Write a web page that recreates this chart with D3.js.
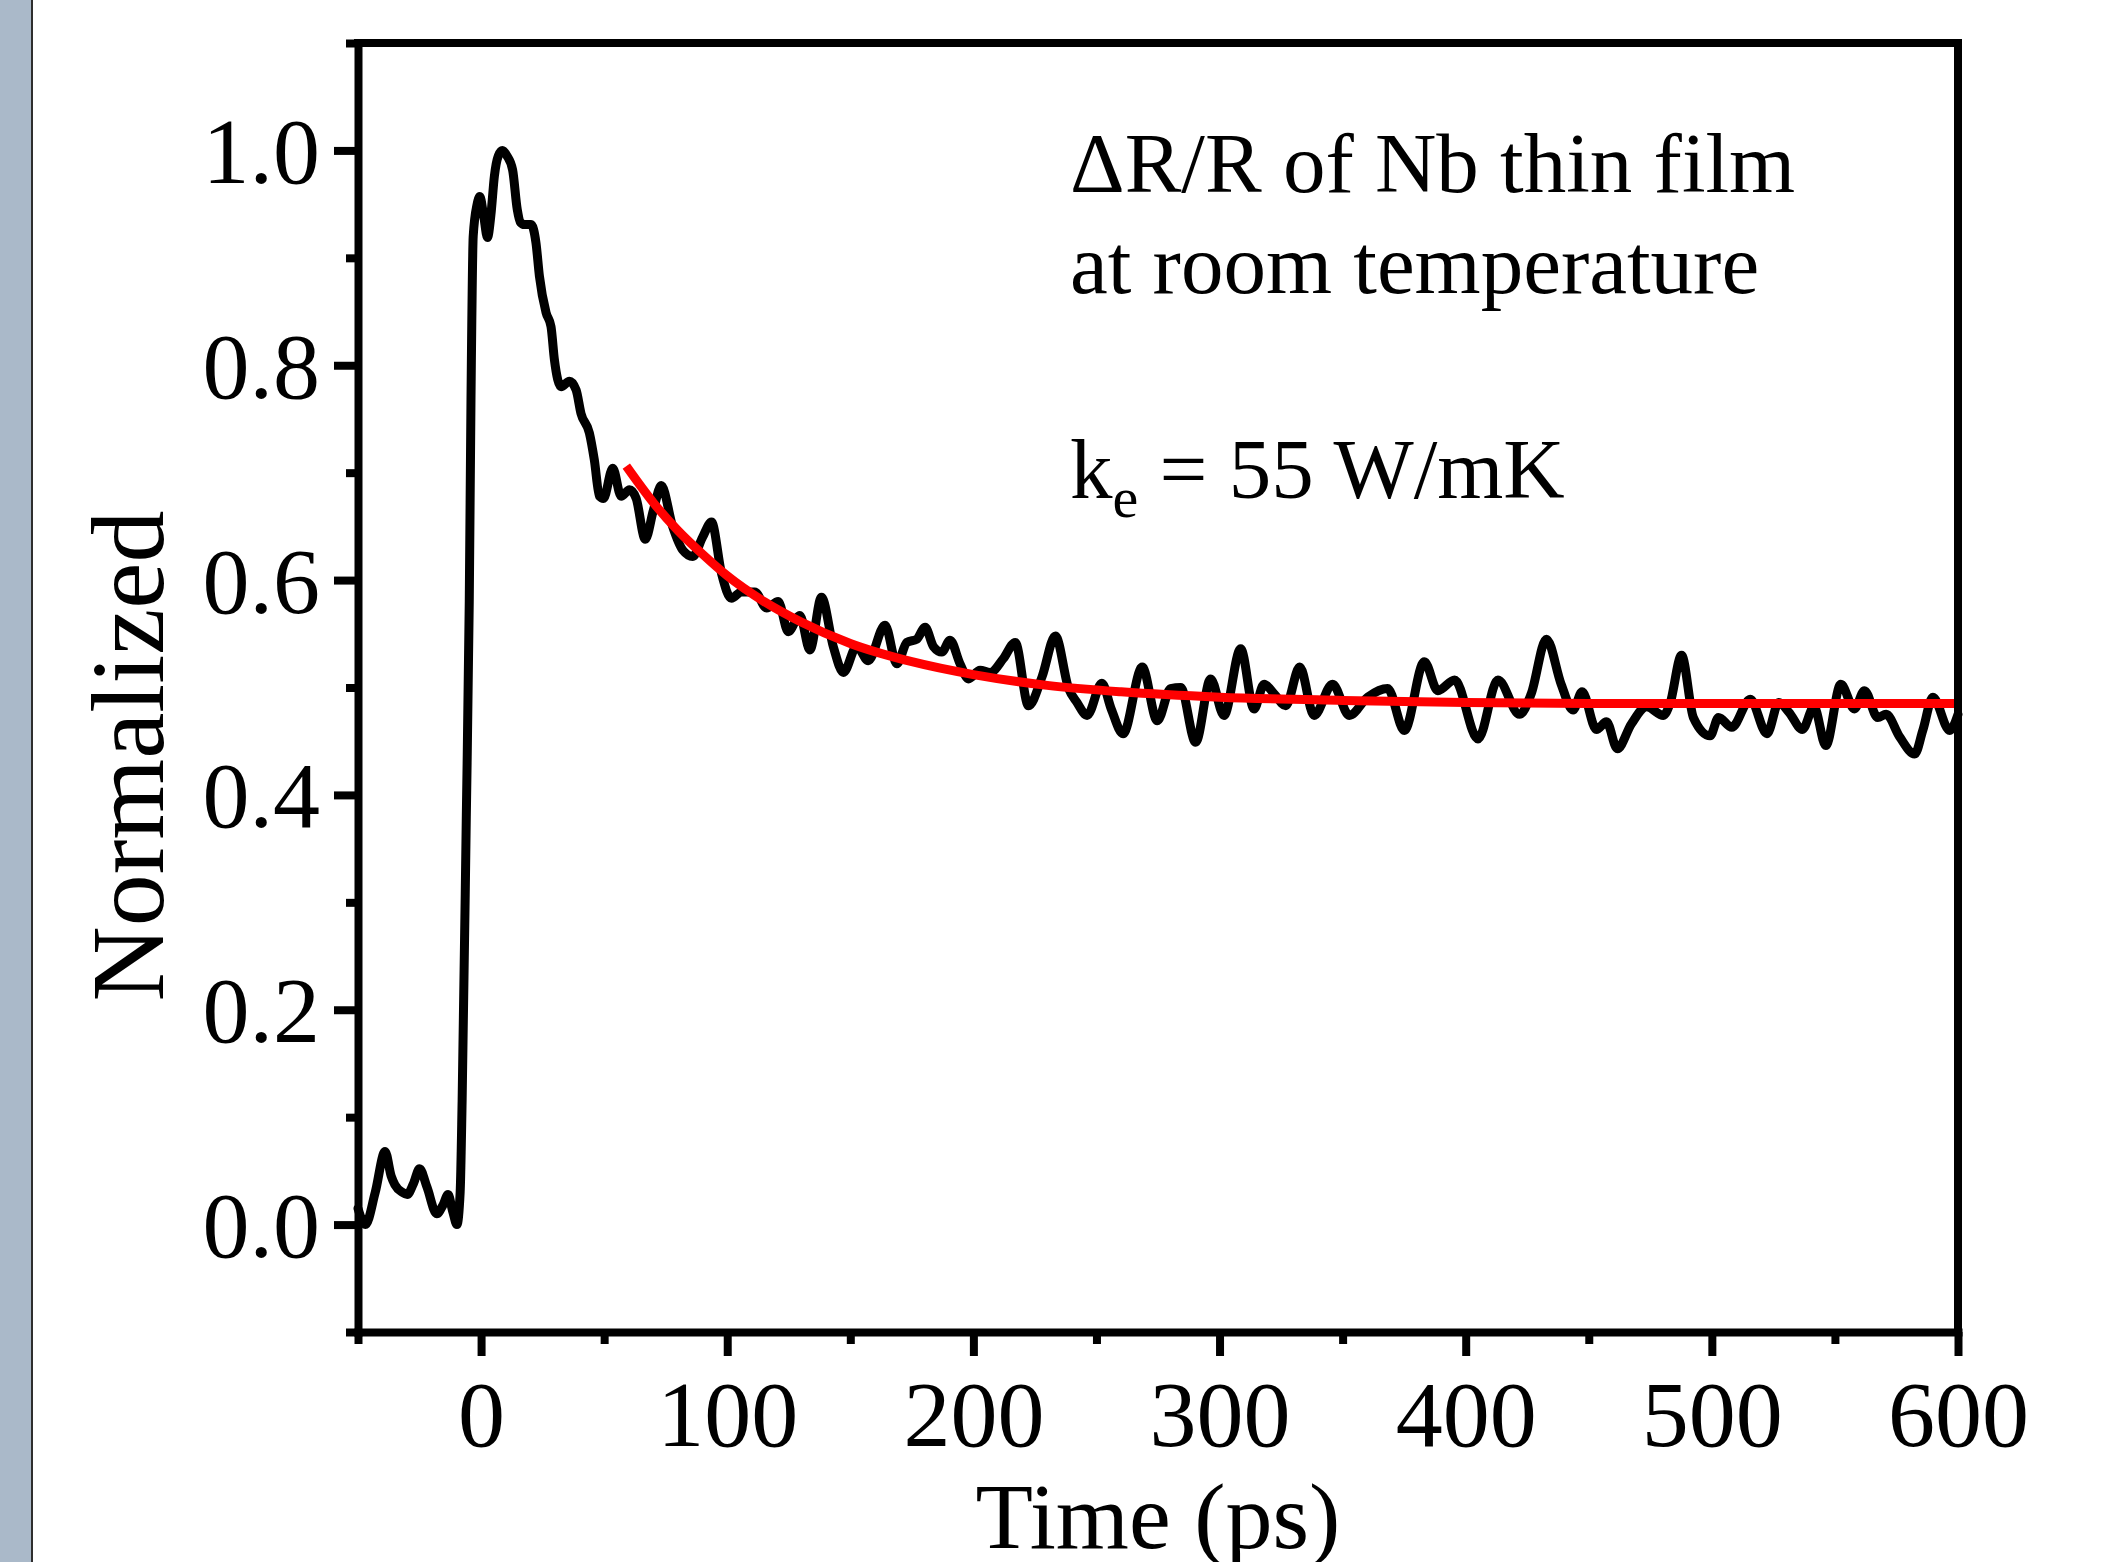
<!DOCTYPE html>
<html>
<head>
<meta charset="utf-8">
<script src="https://d3js.org/d3.v7.min.js"></script>
<style>
body { margin: 0; background: #fff; }
text { font-family: "Liberation Serif", "Times New Roman", serif; fill: #000; }
</style>
</head>
<body>
<div id="chart"></div>
<script>
// measured trace, time in ps
var time = [-50, -47, -43, -39, -36.5, -35, -32, -30, -27.5, -25, -22, -18, -15.5, -13.4, -11.5, -9.8, -8.5, -7.7, -6, -4.8, -4.1, -3.2, -1.6, -0.5,
  1, 2.6, 4, 5.4, 7, 8.7, 10.5, 12.8, 14.7, 16, 17.6, 20.3, 22.3, 23.7, 26.4, 28.4, 29.8, 32.5, 35.9, 38.6, 40.6, 44, 46, 48.1, 49.7,
  53.5, 56.9, 60.3, 63, 66.7, 70, 73.2, 77.8, 81.9, 86, 90, 93.6, 97.7, 101.7, 105.8, 111.2, 116, 120.7, 124.8, 129.5, 133.6, 138.3,
  143.1, 147.2, 152.6, 157.3, 164.1, 168.9, 173, 177, 180.4, 183.8, 187.2, 190.5, 194.6, 198, 202.7, 206.8, 212.2, 217, 222.4, 227.9,
  233.3, 238.7, 242.1, 246.2, 252.2, 256, 260.8, 268.6, 274.7, 280.1, 284.2, 290.3, 296.4, 301.8, 308.6, 314, 318.1, 322.2, 326.9,
  332.6, 338.4, 345.9, 352.7, 360.2, 368.3, 375.1, 383.2, 388.7, 395.5, 405, 413.1, 421.9, 426.6, 432.8, 438.8, 443.6, 447.3, 453.1,
  457.2, 461.6, 467.3, 473.5, 480.3, 483, 487.7, 492.5, 499.3, 502.7, 508.1, 515.6, 522.4, 527.2, 531.3, 536.8, 541.5, 546.3, 552.4,
  557.9, 562, 567.4, 570.8, 576.3, 582.4, 585.7, 589.8, 596.6, 600];
var signal = [0.015, 0.0, 0.03, 0.068, 0.045, 0.037, 0.03, 0.028, 0.038, 0.052, 0.035, 0.01, 0.018, 0.028, 0.012, 0.0, 0.03, 0.115, 0.38, 0.58, 0.768, 0.92, 0.95, 0.957,
  0.94, 0.919, 0.94, 0.976, 0.995, 1.0, 0.995, 0.982, 0.945, 0.933, 0.931, 0.931, 0.914, 0.883, 0.849, 0.836, 0.805, 0.78, 0.785, 0.777, 0.755, 0.737, 0.712, 0.678, 0.676,
  0.704, 0.678, 0.684, 0.676, 0.638, 0.665, 0.688, 0.65, 0.628, 0.622, 0.64, 0.654, 0.606, 0.583, 0.589, 0.589, 0.574, 0.58, 0.552, 0.567, 0.535, 0.584,
  0.538, 0.514, 0.538, 0.525, 0.558, 0.522, 0.542, 0.545, 0.556, 0.538, 0.533, 0.544, 0.522, 0.508, 0.516, 0.514, 0.527, 0.542, 0.483, 0.51,
  0.548, 0.499, 0.486, 0.474, 0.504, 0.48, 0.457, 0.519, 0.469, 0.499, 0.5, 0.449, 0.508, 0.474, 0.536, 0.48, 0.503, 0.494, 0.483,
  0.519, 0.474, 0.503, 0.474, 0.491, 0.499, 0.46, 0.524, 0.497, 0.507, 0.452, 0.507, 0.475, 0.494, 0.545, 0.503, 0.479, 0.496, 0.461,
  0.468, 0.443, 0.466, 0.482, 0.474, 0.485, 0.53, 0.472, 0.455, 0.472, 0.463, 0.489, 0.457, 0.486, 0.477, 0.461, 0.482, 0.446, 0.503,
  0.48, 0.497, 0.472, 0.475, 0.454, 0.438, 0.46, 0.491, 0.46, 0.475];

// red fit curve
var fitTime = [59, 70, 80, 90, 100, 115, 130, 150, 175, 200, 230, 260, 300, 350, 400, 450, 500, 550, 600];
var fitValue = [0.706, 0.672, 0.646, 0.624, 0.604, 0.58, 0.561, 0.541, 0.524, 0.512, 0.502, 0.496, 0.491, 0.488, 0.486, 0.485, 0.485, 0.485, 0.485];

var xTicks = [0, 100, 200, 300, 400, 500, 600];
var xMinor = [-50, 50, 150, 250, 350, 450, 550];
var yTicks = [0, 0.2, 0.4, 0.6, 0.8, 1.0];
var yMinor = [-0.1, 0.1, 0.3, 0.5, 0.7, 0.9, 1.1];
var noteLines = ["\u0394R/R of Nb thin film", "at room temperature"];

var margin = {top: 43, right: 152, bottom: 230, left: 358},
    width = 2110 - margin.left - margin.right,
    height = 1562 - margin.top - margin.bottom;

var root = d3.select("#chart")
  .append("svg")
    .attr("width", 2110)
    .attr("height", 1562);

// grey strip on the left edge
root.append("rect")
  .attr("x", 0).attr("y", 0)
  .attr("width", 31).attr("height", 1562)
  .attr("fill", "#aab9c9");
root.append("line")
  .attr("x1", 32).attr("x2", 32)
  .attr("y1", 0).attr("y2", 1562)
  .attr("stroke", "#2e2e2e")
  .attr("stroke-width", 2);

var svg = root.append("g")
  .attr("transform", "translate(" + margin.left + "," + margin.top + ")");

var x = d3.scaleLinear()
  .domain([-50, 600])
  .range([0, width]);

var y = d3.scaleLinear()
  .domain([-0.1, 1.1])
  .range([height, 0]);

// curves
var trace = time.map(function(t, i) { return [t, signal[i]]; });
var fit = fitTime.map(function(t, i) { return [t, fitValue[i]]; });

var line = d3.line()
  .x(function(d) { return x(d[0]); })
  .y(function(d) { return y(d[1]); })
  .curve(d3.curveMonotoneX);

svg.append("path")
  .datum(trace)
  .attr("d", line)
  .attr("fill", "none")
  .attr("stroke", "#000")
  .attr("stroke-width", 9)
  .attr("stroke-linejoin", "round")
  .attr("stroke-linecap", "round");

svg.append("path")
  .datum(fit)
  .attr("d", line)
  .attr("fill", "none")
  .attr("stroke", "#ff0000")
  .attr("stroke-width", 9)
  .attr("stroke-linejoin", "round");

// X axis
var xAxis = svg.append("g")
  .attr("transform", "translate(0," + height + ")")
  .call(d3.axisBottom(x).tickValues(xTicks).tickSize(24).tickSizeOuter(0).tickFormat(d3.format("d")));
xAxis.select(".domain").attr("stroke-width", 8).attr("stroke-linecap", "square");
xAxis.selectAll(".tick line").attr("stroke-width", 8);
xAxis.selectAll("text")
  .attr("y", 114)
  .attr("dy", null)
  .style("font-size", "94px")
  .style("font-family", "'Liberation Serif', 'Times New Roman', serif");

svg.append("g")
  .attr("transform", "translate(0," + height + ")")
  .call(d3.axisBottom(x).tickValues(xMinor).tickSize(12).tickFormat(""))
  .call(function(g) { g.select(".domain").remove(); })
  .selectAll(".tick line").attr("stroke-width", 8);

// Y axis
var yAxis = svg.append("g")
  .call(d3.axisLeft(y).tickValues(yTicks).tickSize(24).tickSizeOuter(0).tickFormat(d3.format(".1f")));
yAxis.select(".domain").attr("stroke-width", 8).attr("stroke-linecap", "square");
yAxis.selectAll(".tick line").attr("stroke-width", 8);
yAxis.selectAll("text")
  .attr("x", -38)
  .attr("y", 32)
  .attr("dy", null)
  .style("font-size", "94px")
  .style("font-family", "'Liberation Serif', 'Times New Roman', serif");

svg.append("g")
  .call(d3.axisLeft(y).tickValues(yMinor).tickSize(12).tickFormat(""))
  .call(function(g) { g.select(".domain").remove(); })
  .selectAll(".tick line").attr("stroke-width", 8);

// top and right frame
svg.append("line")
  .attr("x1", 0).attr("x2", width)
  .attr("y1", 0).attr("y2", 0)
  .attr("stroke", "#000").attr("stroke-width", 8).attr("stroke-linecap", "square");
svg.append("line")
  .attr("x1", width).attr("x2", width)
  .attr("y1", 0).attr("y2", height)
  .attr("stroke", "#000").attr("stroke-width", 8).attr("stroke-linecap", "square");

// axis titles
root.append("text")
  .attr("x", 1158)
  .attr("y", 1548)
  .attr("text-anchor", "middle")
  .style("font-size", "94px")
  .text("Time (ps)");

root.append("text")
  .attr("transform", "translate(163,756)rotate(-90)")
  .attr("text-anchor", "middle")
  .style("font-size", "104px")
  .text("Normalized");

// annotation
root.selectAll(".note")
  .data(noteLines)
  .enter()
  .append("text")
    .attr("class", "note")
    .attr("x", 1070)
    .attr("y", function(d, i) { return 192 + i * 101; })
    .style("font-size", "85px")
    .text(function(d) { return d; });

var ke = root.append("text")
  .attr("x", 1070)
  .attr("y", 498)
  .style("font-size", "85px");
ke.append("tspan").text("k");
ke.append("tspan").attr("dy", 19).style("font-size", "58px").text("e");
ke.append("tspan").attr("dy", -19).text(" = 55 W/mK");
</script>
</body>
</html>
